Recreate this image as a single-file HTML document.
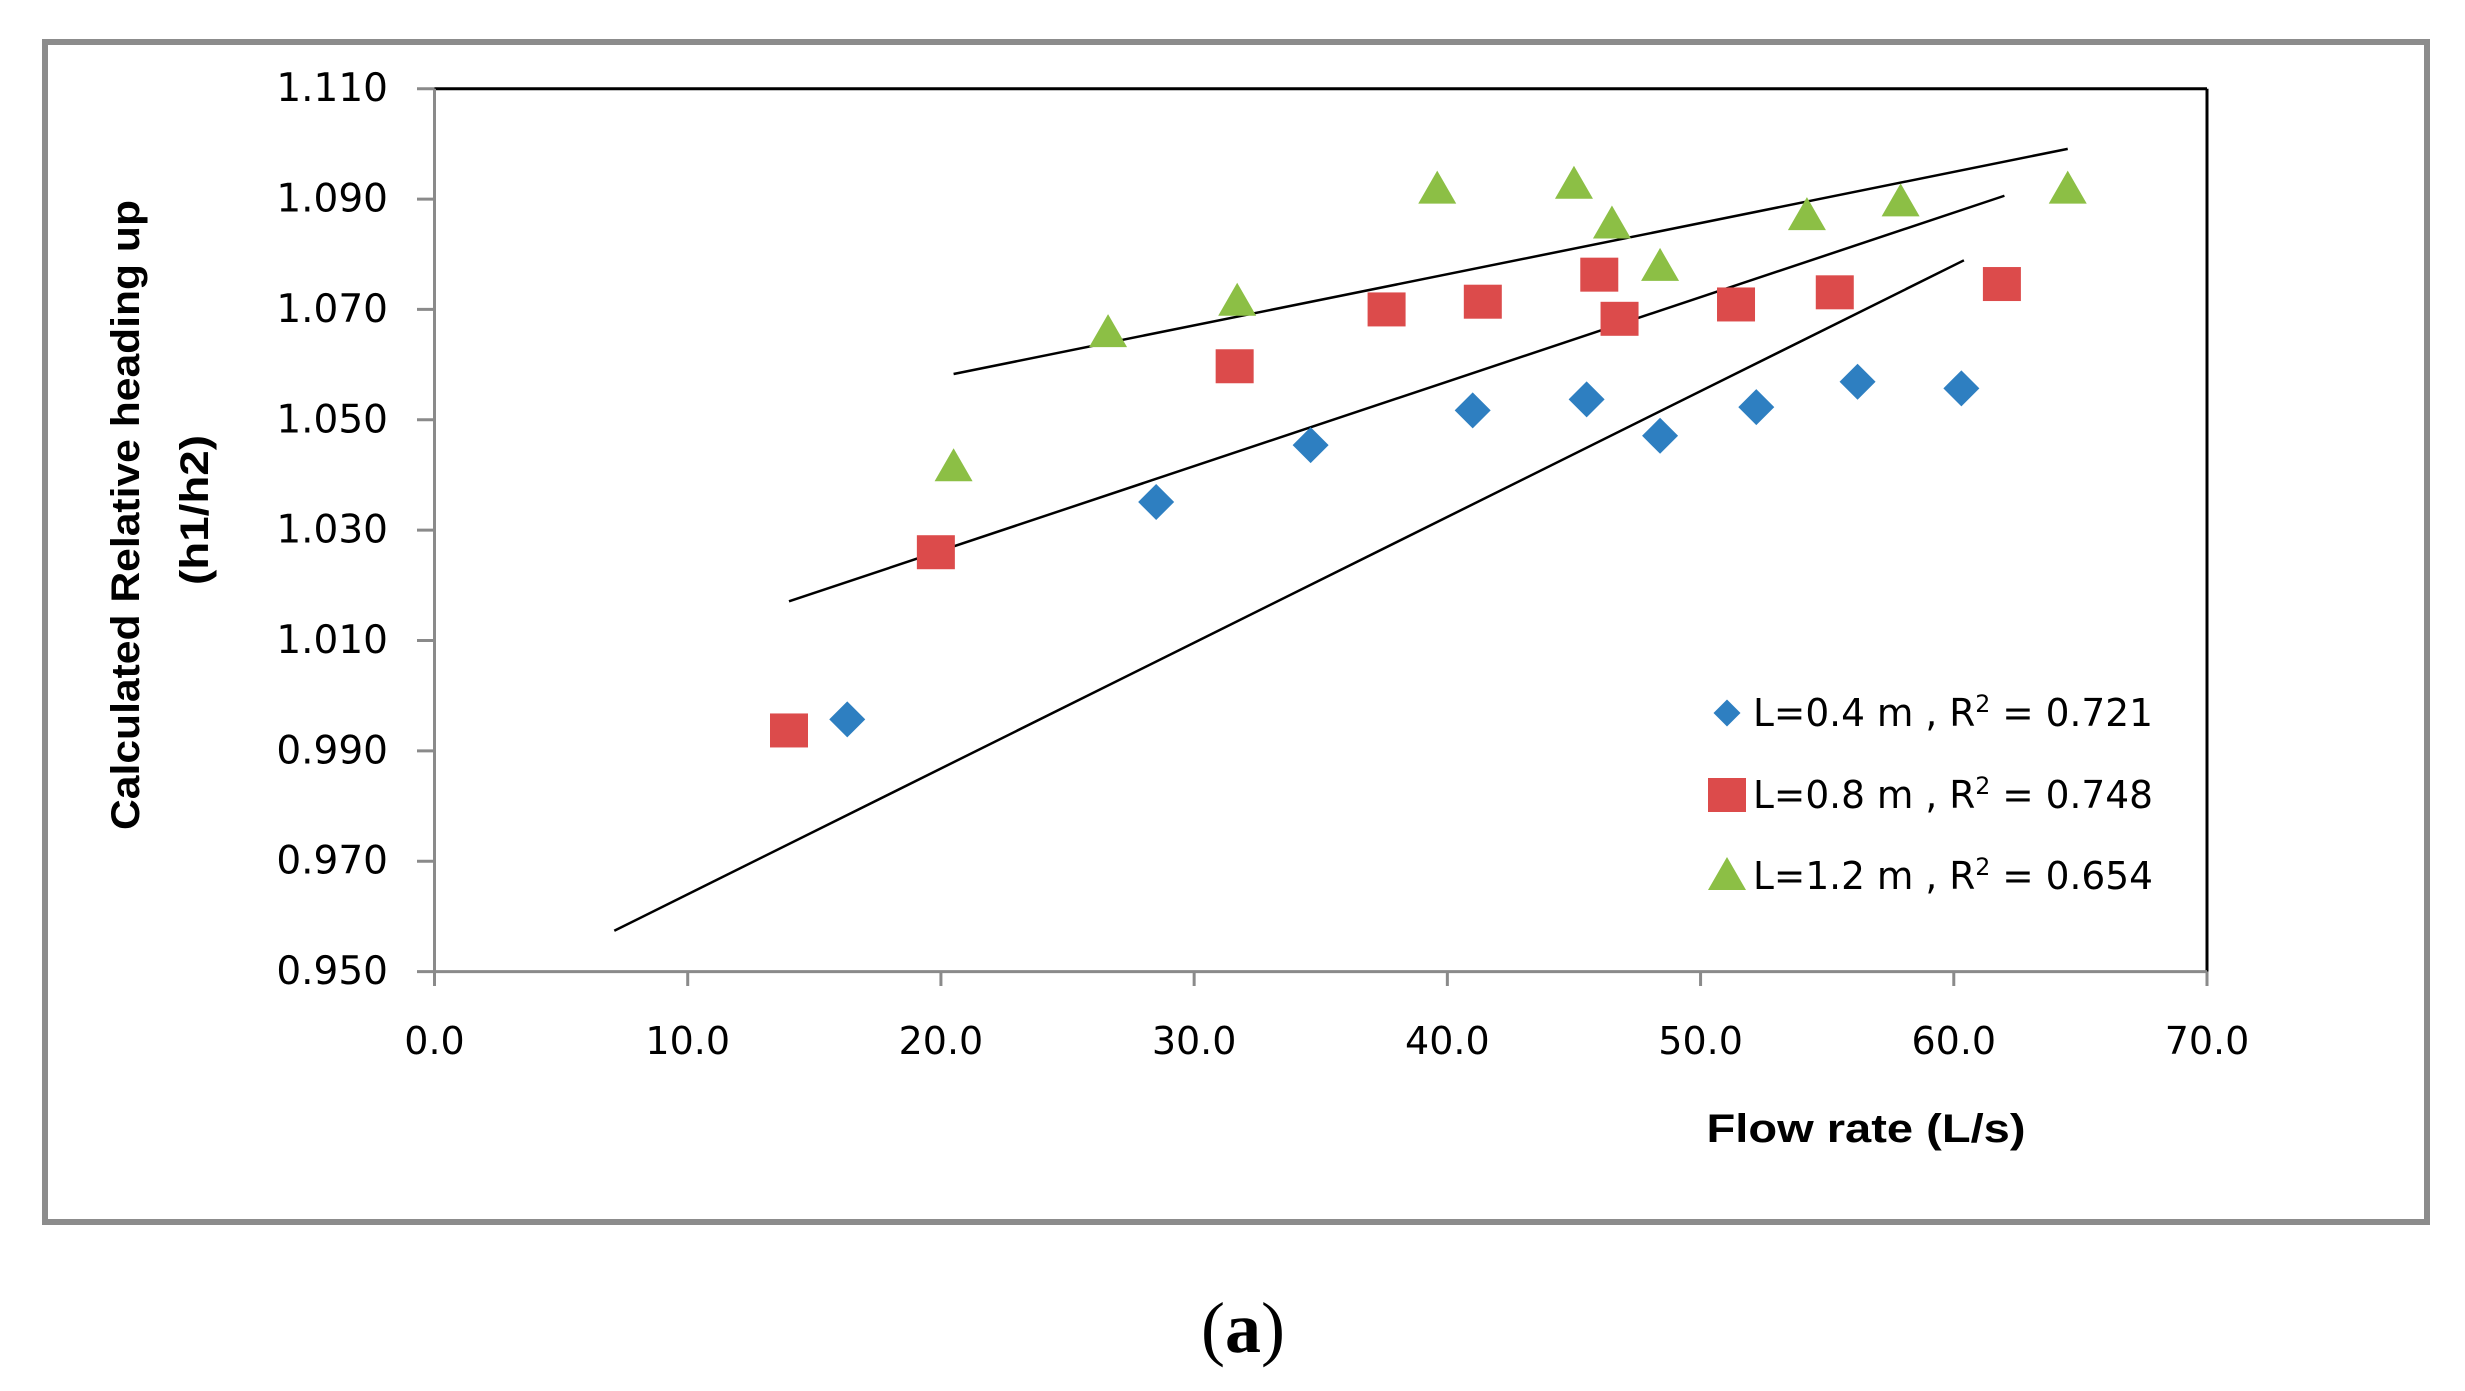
<!DOCTYPE html>
<html><head><meta charset="utf-8"><style>
html,body{margin:0;padding:0;background:#fff;}
svg{display:block;}
text{font-family:"DejaVu Sans","Liberation Sans",sans-serif;}
</style></head><body>
<svg id="chart" width="2465" height="1391" viewBox="0 0 2465 1391" xmlns="http://www.w3.org/2000/svg">
<rect x="45" y="42" width="2382" height="1180" fill="#fff" stroke="#8c8c8c" stroke-width="6"/>
<g id="plot"></g>
<text x="126" y="515" transform="rotate(-90 126 515)" text-anchor="middle" dominant-baseline="central" style="font-family:'Liberation Sans',sans-serif" font-weight="bold" font-size="40" textLength="630" lengthAdjust="spacingAndGlyphs">Calculated Relative heading up</text>
<text x="195" y="510" transform="rotate(-90 195 510)" text-anchor="middle" dominant-baseline="central" style="font-family:'Liberation Sans',sans-serif" font-weight="bold" font-size="40" textLength="150" lengthAdjust="spacingAndGlyphs">(h1/h2)</text>
<text x="1866" y="1129" text-anchor="middle" dominant-baseline="central" style="font-family:'Liberation Sans',sans-serif" font-weight="bold" font-size="40" textLength="319" lengthAdjust="spacingAndGlyphs">Flow rate (L/s)</text>
<text x="1243" y="1352" text-anchor="middle" style="font-family:'Liberation Serif',serif" font-size="72">(<tspan font-weight="bold">a</tspan>)</text>
</svg>
<script>
const xTicks=[0,10,20,30,40,50,60,70];
const yTicks=[0.950,0.970,0.990,1.010,1.030,1.050,1.070,1.090,1.110];
const xTickLabels=["0.0","10.0","20.0","30.0","40.0","50.0","60.0","70.0"];
const yTickLabels=["0.950","0.970","0.990","1.010","1.030","1.050","1.070","1.090","1.110"];
const blueX=[16.3,28.5,34.6,41.0,45.5,48.4,52.2,56.2,60.3];
const blueY=[0.9957,1.0351,1.0454,1.0517,1.0537,1.0471,1.0523,1.0569,1.0557];
const redX=[14.0,19.8,31.6,37.6,41.4,46.0,46.8,51.4,55.3,61.9];
const redY=[0.9937,1.0260,1.0597,1.0700,1.0714,1.0763,1.0683,1.0709,1.0731,1.0746];
const greenX=[20.5,26.6,31.7,39.6,45.0,46.5,48.4,54.2,57.9,64.5];
const greenY=[1.0414,1.0657,1.0714,1.0917,1.0926,1.0854,1.0777,1.0869,1.0894,1.0917];
const trendX=[[7.1,60.4],[14.0,62.0],[20.5,64.5]];
const trendY=[[0.9574,1.0789],[1.0171,1.0906],[1.0583,1.0991]];
const legendLabels=["L=0.4 m , R","L=0.8 m , R","L=1.2 m , R"];
const legendR2=["0.721","0.748","0.654"];

const L=434.5,R=2207,T=88.7,B=971.6;
const X0=0,X1=70,Y0=0.95,Y1=1.11;
const sx=v=>L+(v-X0)/(X1-X0)*(R-L);
const sy=v=>B-(v-Y0)/(Y1-Y0)*(B-T);
const NS="http://www.w3.org/2000/svg";
const g=document.getElementById('plot');
function mk(tag,attrs,parent){const e=document.createElementNS(NS,tag);for(const k in attrs)e.setAttribute(k,attrs[k]);(parent||g).appendChild(e);return e;}

let e;
e=mk('line',{x1:L,y1:T,x2:R,y2:T,stroke:'#000','stroke-width':3});


e=mk('line',{x1:R,y1:T,x2:R,y2:B,stroke:'#000','stroke-width':3});


e=mk('line',{x1:L,y1:T,x2:L,y2:B,stroke:'#8a8a8a','stroke-width':3});


e=mk('line',{x1:L,y1:B,x2:R,y2:B,stroke:'#8a8a8a','stroke-width':3});



yTicks.forEach((v,i)=>{
  const y=sy(v);
  const t=mk('line',{x1:417,y1:y,x2:L,y2:y,stroke:'#8a8a8a','stroke-width':3});
  
  
  const tx=mk('text',{x:388,y:y,'text-anchor':'end','dominant-baseline':'central','font-size':39,fill:'#000'});
  tx.textContent=yTickLabels[i];
  
  
});
xTicks.forEach((v,i)=>{
  const x=sx(v);
  const t=mk('line',{x1:x,y1:B,x2:x,y2:986,stroke:'#8a8a8a','stroke-width':3});
  
  
  const tx=mk('text',{x:x,y:1041,'text-anchor':'middle','dominant-baseline':'central','font-size':38,fill:'#000'});
  tx.textContent=xTickLabels[i];
  
  
});

trendX.forEach((xs,i)=>{
  const l=mk('line',{x1:sx(xs[0]),y1:sy(trendY[i][0]),x2:sx(xs[1]),y2:sy(trendY[i][1]),stroke:'#000','stroke-width':2.5});
  
  
});

function diamond(cx,cy,p){return mk('path',{d:`M${cx},${cy-18}L${cx+18},${cy}L${cx},${cy+18}L${cx-18},${cy}Z`,fill:'#2e7fc1'},p);}
function square(cx,cy,p){return mk('rect',{x:cx-19,y:cy-17,width:38,height:34,fill:'#dc4b4b'},p);}
function tri(cx,cy,p){return mk('path',{d:`M${cx},${cy-19}L${cx+19},${cy+14}L${cx-19},${cy+14}Z`,fill:'#8cbf45'},p);}

blueX.forEach((v,i)=>{
  const m=diamond(sx(v),sy(blueY[i]));
  
  
});
redX.forEach((v,i)=>{
  const m=square(sx(v),sy(redY[i]));
  
  
});
greenX.forEach((v,i)=>{
  const m=tri(sx(v),sy(greenY[i]));
  
  
});

const rowsY=[713,795,876];
const makers=[diamond,square,tri];
legendLabels.forEach((lab,i)=>{
  const lg=mk('g',{});
  
  
  const m=makers[i](1727,rowsY[i],lg);
  if(i===0){m.setAttribute('transform',`translate(1727 ${rowsY[i]}) scale(0.75) translate(-1727 ${-rowsY[i]})`);}
  
  
  const t=mk('text',{x:1753,y:rowsY[i]+13,'font-size':38,fill:'#000',textLength:400,lengthAdjust:'spacingAndGlyphs'},lg);
  t.innerHTML=lab+'<tspan dy="-14" font-size="24">2</tspan><tspan dy="14"> = '+legendR2[i]+'</tspan>';
  
  
});
</script>
</body></html>
